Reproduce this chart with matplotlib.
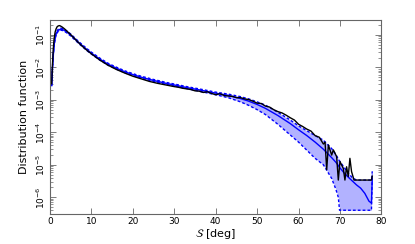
import numpy as np
import matplotlib
matplotlib.use("Agg")
import matplotlib.pyplot as plt
from matplotlib.ticker import FixedLocator, NullFormatter

# ---- data (log10 of distribution function) ----
band_x = [0.4, 0.6, 0.8, 1.0, 1.25, 1.5, 2.0, 2.5, 3.0, 3.5, 4, 5, 6, 7, 8, 9, 10, 12, 14, 16, 18, 20,
          22, 25, 28, 30, 33, 36, 40, 43, 46, 48, 50, 52, 55, 58, 60, 62, 64, 66, 68, 69, 69.6, 69.9,
          71, 72, 73, 74, 75, 76, 77, 77.6, 77.8]
model_log = [-2.55, -2.0, -1.6, -1.3, -1.08, -0.95, -0.85, -0.82, -0.83, -0.86, -0.9, -1.0, -1.12, -1.24,
             -1.35, -1.46, -1.56, -1.74, -1.9, -2.02, -2.13, -2.22, -2.3, -2.4, -2.49, -2.54, -2.62, -2.69,
             -2.79, -2.86, -2.96, -3.04, -3.14, -3.26, -3.48, -3.73, -3.92, -4.1, -4.3, -4.52, -4.78, -4.92,
             -5.02, -5.08, -5.25, -5.38, -5.5, -5.62, -5.72, -5.88, -6.12, -6.18, -5.42]
upper_log = [-2.52, -1.97, -1.57, -1.27, -1.05, -0.92, -0.82, -0.79, -0.8, -0.83, -0.87, -0.97, -1.09,
             -1.21, -1.32, -1.43, -1.53, -1.71, -1.87, -1.99, -2.1, -2.19, -2.27, -2.37, -2.46, -2.51,
             -2.59, -2.66, -2.76, -2.82, -2.9, -2.97, -3.06, -3.16, -3.38, -3.62, -3.8, -3.95, -4.1, -4.24,
             -4.5, -4.68, -4.82, -4.88, -5.08, -5.25, -5.4, -5.47, -5.47, -5.47, -5.47, -5.47, -5.2]
lower_log = [-2.58, -2.03, -1.63, -1.33, -1.11, -0.98, -0.88, -0.85, -0.86, -0.89, -0.93, -1.03, -1.15,
             -1.27, -1.38, -1.49, -1.59, -1.77, -1.93, -2.05, -2.16, -2.25, -2.33, -2.43, -2.52, -2.57,
             -2.65, -2.73, -2.84, -2.93, -3.06, -3.17, -3.3, -3.45, -3.75, -4.08, -4.3, -4.55, -4.8, -5.0,
             -5.42, -5.75, -6.0, -6.4, -6.4, -6.4, -6.4, -6.4, -6.4, -6.4, -6.4, -6.4, -5.3]

data_x = [0.4, 0.6, 0.8, 1.0, 1.25, 1.5, 1.75, 2.0, 2.25, 2.5, 3.0, 3.5, 4, 5, 6, 7, 8, 9, 10, 12, 14, 16,
          18, 20, 22, 24, 26, 28, 30, 31, 32, 33, 34, 35, 36, 37, 38, 39, 40, 41, 42, 43, 44, 45, 46, 47,
          48, 49, 50, 51, 52, 53, 54, 55, 56, 57, 58, 59, 60, 61, 62, 63, 64, 65, 66, 66.4, 66.8, 67.2, 68.0,
          68.4, 69.2, 69.6, 70.0, 70.8, 71.2, 71.6, 72.0, 72.4, 72.8, 73.4, 77.6, 77.8]
data_log = [-2.5, -1.9, -1.4, -1.1, -0.9, -0.8, -0.74, -0.72, -0.71, -0.72, -0.76, -0.81, -0.87, -0.99,
            -1.12, -1.25, -1.37, -1.48, -1.58, -1.77, -1.93, -2.06, -2.17, -2.27, -2.35, -2.43, -2.49, -2.54,
            -2.59, -2.61, -2.64, -2.66, -2.68, -2.72, -2.73, -2.77, -2.75, -2.8, -2.84, -2.81, -2.86, -2.88,
            -2.89, -2.93, -2.93, -2.97, -2.99, -3.04, -3.1, -3.11, -3.19, -3.22, -3.3, -3.36, -3.4, -3.47,
            -3.55, -3.62, -3.75, -3.82, -3.9, -3.96, -4.1, -4.15, -4.36, -4.3, -5.15, -4.39, -4.7, -4.54,
            -4.75, -5.47, -4.9, -5.11, -5.47, -5.06, -5.36, -4.8, -5.21, -5.47, -5.47, -5.35]

xticks = [0, 10, 20, 30, 40, 50, 60, 70, 80]
ytick_exponents = [-6, -5, -4, -3, -2, -1]

bx = np.array(band_x)
model = 10 ** np.array(model_log)
upper = 10 ** np.array(upper_log)
lower = 10 ** np.array(lower_log)
dx = np.array(data_x)
data = 10 ** np.array(data_log)

ymin, ymax = 3.0e-7, 0.29

fig = plt.figure(figsize=(4.15, 2.44), dpi=100)
ax = fig.add_axes([0.1205, 0.122, 0.7985, 0.796])

ax.fill_between(bx, lower, upper, color="blue", alpha=0.3, linewidth=0)
ax.plot(bx, upper, color="blue", lw=1.0, ls=(0, (2, 1.5)))
ax.plot(bx, lower, color="blue", lw=1.0, ls=(0, (2, 1.5)))
ax.plot(bx, model, color="blue", lw=1.0)
ax.plot(dx, data, color="black", lw=1.0)

ax.set_yscale("log")
ax.set_xlim(0, 80)
ax.set_ylim(ymin, ymax)
ax.set_xticks(xticks)
major = [10.0 ** e for e in ytick_exponents]
minor = [m * 10.0 ** e for e in range(-7, 0) for m in range(2, 10) if ymin <= m * 10.0 ** e <= ymax]
ax.yaxis.set_major_locator(FixedLocator(major))
ax.yaxis.set_minor_locator(FixedLocator(minor))
ax.yaxis.set_minor_formatter(NullFormatter())
ax.set_yticklabels([r"$10^{%d}$" % e for e in ytick_exponents], rotation=90, va="center")

for sp in ax.spines.values():
    sp.set_color("#666666")
    sp.set_linewidth(0.8)
ax.tick_params(which="both", direction="in", top=True, right=True, color="#666666",
               labelsize=6.5, pad=2)
ax.tick_params(which="major", length=4, width=0.6)
ax.tick_params(which="minor", length=2, width=0.5)

ax.set_xlabel(r"$\mathcal{S}$ [deg]", fontsize=8, labelpad=1)
ax.set_ylabel("Distribution function", fontsize=8, labelpad=4)

fig.savefig("out.png", dpi=100)
